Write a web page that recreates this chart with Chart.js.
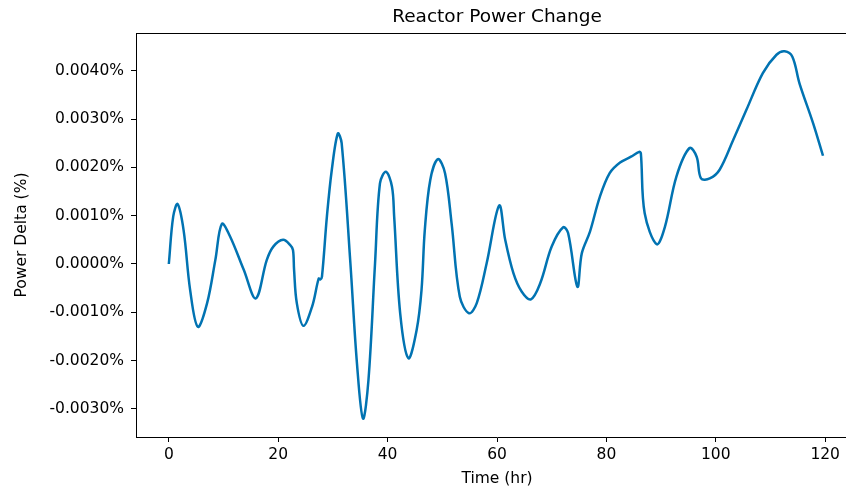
<!DOCTYPE html>
<html>
<head>
<meta charset="utf-8">
<script src="https://cdn.jsdelivr.net/npm/chart.js@4.4.1/dist/chart.umd.min.js"></script>
<style>
    html, body { margin: 0; padding: 0; background: #fff; overflow: hidden; }
    #wrap { width: 846px; height: 488px; overflow: hidden; }
    #wrap div { width: 872px; height: 488px; position: relative; }
</style>
</head>
<body>
<div id="wrap"><div><canvas id="powerChart"></canvas></div></div>
<script>
// time (hr) and power delta (%)
const times = [0, 0.8, 1.6, 2.7, 3.9, 5.3, 7.0, 8.5, 9.7, 11.2, 13.7, 15.9, 17.9, 19.1, 20.9, 22.2, 22.7, 22.9, 23.4, 24.6,
    26.2, 27.4, 27.7, 28.0, 28.9, 29.8, 30.9, 31.6, 33.2, 34.4, 35.5, 36.5, 37.7, 38.6, 39.7, 40.8, 41.2, 42.3, 43.8,
    45.3, 46.2, 46.8, 47.8, 49.2, 50.5, 51.7, 53.2, 54.9, 56.3, 58.1, 60.4, 61.5, 63.0, 64.5, 66.2, 67.9, 70.0, 72.1,
    73.0, 74.7, 75.5, 77.0, 78.8, 80.6, 82.5, 84.5, 86.0, 86.3, 87.0, 89.2, 90.7, 92.8, 95.2, 96.5, 97.3, 98.9, 100.7,
    103.2, 105.6, 108.6, 111.1, 112.6, 114.0, 115.3, 117.8, 119.6];
const powerDelta = [0, 0.00098, 0.00124, 0.00070, -0.00054, -0.00130, -0.00081, 0.00008, 0.00083, 0.00057, -0.00012,
    -0.00071, 0.00008, 0.00036, 0.00050, 0.00039, 0.00029, -0.00012, -0.00081, -0.00128,
    -0.00088, -0.00030, -0.00032, -0.00026, 0.00098, 0.00195, 0.00270, 0.00250, 0.00001, -0.00206, -0.00320, -0.00240,
    0.00001, 0.00167, 0.00191, 0.00160, 0.00098, -0.00102, -0.00195,
    -0.00137, -0.00054, 0.00070, 0.00174, 0.00217, 0.00188, 0.00084, -0.00068, -0.00102, -0.00081, 0.00001, 0.00121,
    0.00050, -0.00019, -0.00057, -0.00073, -0.00040, 0.00036, 0.00076,
    0.00064, -0.00047, 0.00022, 0.00067, 0.00139, 0.00188, 0.00210, 0.00222, 0.00232, 0.00229, 0.00105, 0.00041,
    0.00077, 0.00181, 0.00240, 0.00222, 0.00177, 0.00177, 0.00195,
    0.00257, 0.00319, 0.00395, 0.00433, 0.00440, 0.00429, 0.00374, 0.00291, 0.00224];
const yTicks = [-0.003, -0.002, -0.001, 0, 0.001, 0.002, 0.003, 0.004];
const xTicks = [0, 20, 40, 60, 80, 100, 120];

const points = times.map((t, i) => ({ x: t, y: powerDelta[i] }));

// top spine (right one falls outside the crop)
const frame = {
    id: 'frame',
    afterDraw(chart) {
        const a = chart.chartArea;
        const ctx = chart.ctx;
        ctx.save();
        ctx.strokeStyle = '#000';
        ctx.lineWidth = 1;
        ctx.beginPath();
        ctx.moveTo(a.left, a.top + 0.5);
        ctx.lineTo(a.right, a.top + 0.5);
        ctx.stroke();
        ctx.restore();
    }
};

const font = { family: 'DejaVu Sans', size: 15.5 };

const ctx = document.getElementById('powerChart').getContext('2d');
const powerChart = new Chart(ctx, {
    type: 'line',
    data: {
        datasets: [{
            data: points,
            borderColor: '#0173b2',
            borderWidth: 2.5,
            pointRadius: 0,
            tension: 0.35,
            fill: false
        }]
    },
    options: {
        responsive: true,
        maintainAspectRatio: false,
        animation: false,
        layout: { padding: { left: 0, right: 14, top: 0, bottom: 0 } },
        plugins: {
            legend: { display: false },
            tooltip: { enabled: false },
            title: {
                display: true,
                fullSize: false,
                text: 'Reactor Power Change',
                color: '#000',
                font: { family: 'DejaVu Sans', size: 18.5, weight: 'normal' },
                padding: { top: 6, bottom: 4.8 }
            }
        },
        scales: {
            x: {
                type: 'linear',
                min: -6,
                max: 126,
                afterBuildTicks: s => { s.ticks = xTicks.map(v => ({ value: v })); },
                afterFit: s => { s.height = 51; },
                ticks: { color: '#000', font: font, padding: 4, maxRotation: 0 },
                grid: { drawOnChartArea: false, tickLength: 5, color: '#000' },
                border: { display: true, color: '#000', width: 1 },
                title: { display: true, text: 'Time (hr)', color: '#000', font: font, padding: { top: 0, bottom: 0 } }
            },
            y: {
                min: -0.00358,
                max: 0.00478,
                afterBuildTicks: s => { s.ticks = yTicks.map(v => ({ value: v })); },
                afterFit: s => { s.width = 136; },
                ticks: {
                    color: '#000',
                    font: font,
                    padding: 7,
                    callback: v => v.toFixed(4) + '%'
                },
                grid: { drawOnChartArea: false, tickLength: 5, color: '#000' },
                border: { display: true, color: '#000', width: 1 },
                title: { display: true, text: 'Power Delta (%)', color: '#000', font: font, padding: { top: 13, bottom: 0 } }
            }
        }
    },
    plugins: [frame]
});
</script>
</body>
</html>
